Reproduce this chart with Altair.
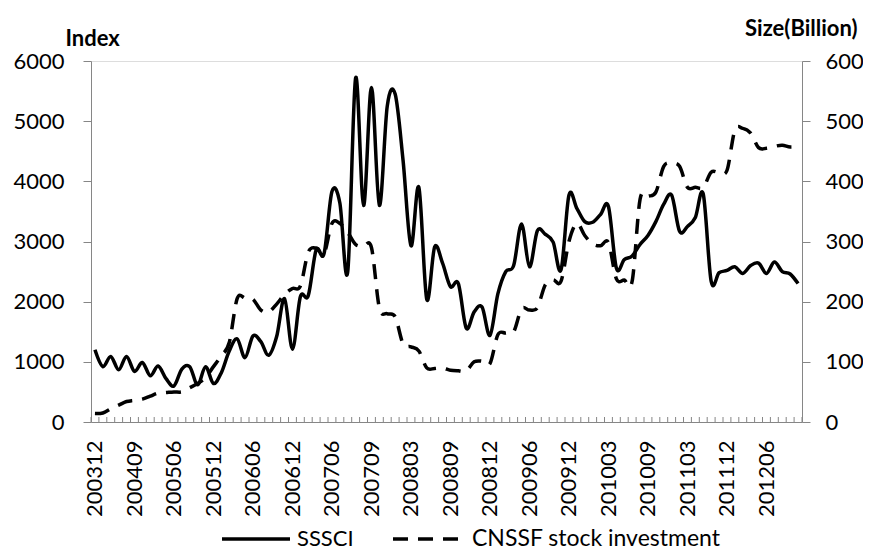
import altair as alt
import pandas as pd
import numpy as np

# ---------------- data ----------------
TICK_LABELS = ["200312", "200409", "200506", "200512", "200606", "200612",
               "200706", "200709", "200803", "200809", "200812", "200906",
               "200912", "201003", "201009", "201103", "201112", "201206"]

SSSCI = [1200, 920, 1090, 870, 1090, 840, 990, 770, 930, 720,
         600, 880, 920, 620, 920, 640, 820, 1180, 1380, 1070,
         1430, 1335, 1110, 1420, 2050, 1210, 2080, 2100, 2860, 2800,
         3830, 3640, 2500, 5720, 3600, 5560, 3600, 5250, 5450, 4350,
         2930, 3900, 2040, 2910, 2640, 2250, 2300, 1560, 1830, 1910,
         1440, 2130, 2500, 2600, 3290, 2580, 3180, 3120, 2990, 2530,
         3770, 3550, 3330, 3320, 3450, 3580, 2560, 2700, 2760, 2950,
         3100, 3330, 3620, 3770, 3170, 3250, 3400, 3790, 2340, 2480,
         2520, 2580, 2470, 2600, 2640, 2470, 2660, 2500, 2460, 2300]

CNSSF = [14, 15, 22, 28, 34, 36, 38, 43, 48, 49,
         50, 50, 57, 64, 74, 92, 110, 132, 205, 206,
         204, 186, 183, 196, 212, 222, 226, 282, 289, 280,
         330, 330, 315, 295, 292, 290, 190, 180, 175, 130,
         125, 118, 90, 89, 90, 86, 85, 85, 100, 101,
         97, 145, 148, 150, 188, 186, 190, 228, 236, 234,
         300, 330, 310, 296, 293, 298, 238, 236, 234, 370,
         375, 382, 425, 430, 425, 390, 390, 390, 415, 415,
         418, 485, 488, 480, 456, 455, 458, 460, 457, 458]

SERIES = ["SSSCI", "CNSSF stock investment"]
LEFT_TICKS = [0, 1000, 2000, 3000, 4000, 5000, 6000]
RIGHT_TICKS = [0, 100, 200, 300, 400, 500, 600]

n = len(SSSCI)
df = pd.DataFrame({
    "idx": list(range(n)) * 2,
    "value": SSSCI + CNSSF,
    "series": [SERIES[0]] * n + [SERIES[1]] * n,
})
bounds = pd.DataFrame({"idx": np.arange(n + 1) - 0.5})
leg_df = pd.DataFrame({"series": SERIES})

# ---------------- styling ----------------
FONT = "Lato"
FS = 22
AX = "#868686"
W, H = 711, 361
LW = 3.5
DASH = [15, 10]

x_scale = alt.Scale(domain=[-0.5, n - 0.5], nice=False, zero=False)
label_expr = "[" + ",".join("'%s'" % t for t in TICK_LABELS) + "][datum.value / 5]"
x_axis = alt.Axis(values=list(range(0, 5 * len(TICK_LABELS), 5)), labelExpr=label_expr,
                  ticks=False, labelAngle=270, labelPadding=18, labelFont=FONT,
                  labelFontSize=FS, labelColor="black", domainColor=AX, domainWidth=1,
                  title=None, grid=False, labelOverlap=False, labelFlush=False)

base = alt.Chart(df).encode(x=alt.X("idx:Q", scale=x_scale, axis=x_axis))

left = base.transform_filter(alt.datum.series == SERIES[0]).mark_line(
    color="black", strokeWidth=LW, interpolate="cardinal"
).encode(
    y=alt.Y("value:Q", scale=alt.Scale(domain=[0, 6000], nice=False),
            axis=alt.Axis(orient="left", values=LEFT_TICKS, format="d", tickSize=8, tickColor=AX,
                          domainColor=AX, labelPadding=19, labelFont=FONT, labelFontSize=FS,
                          labelColor="black", grid=False, title="Index", titleAngle=0,
                          titleAlign="left", titleBaseline="alphabetic", titleX=-26, titleY=-16,
                          titleFont=FONT, titleFontSize=FS, titleFontWeight="bold",
                          titleColor="black"))
)

right = base.transform_filter(alt.datum.series == SERIES[1]).mark_line(
    color="black", strokeWidth=LW, interpolate="cardinal", strokeDash=DASH
).encode(
    y=alt.Y("value:Q", scale=alt.Scale(domain=[0, 600], nice=False),
            axis=alt.Axis(orient="right", values=RIGHT_TICKS, format="d", tickSize=8, tickColor=AX,
                          domainColor=AX, labelPadding=15, labelFont=FONT, labelFontSize=FS,
                          labelColor="black", grid=False, title="Size(Billion)", titleAngle=0,
                          titleAlign="right", titleBaseline="alphabetic", titleX=55, titleY=-26,
                          titleFont=FONT, titleFontSize=FS, titleFontWeight="bold",
                          titleColor="black"))
)

ticks = alt.Chart(bounds).mark_rule(color=AX, strokeWidth=1).encode(
    x=alt.X("idx:Q", scale=x_scale, axis=x_axis),
    y=alt.value(H - 5), y2=alt.value(H),
)

# ---------------- legend (bottom, centred) ----------------
LEG_Y = 478
leg1_line = alt.Chart(leg_df).transform_filter(alt.datum.series == SERIES[0]).mark_rule(
    color="black", strokeWidth=LW
).encode(x=alt.value(131), x2=alt.value(199), y=alt.value(LEG_Y))
leg1_text = alt.Chart(leg_df).transform_filter(alt.datum.series == SERIES[0]).mark_text(
    align="left", baseline="middle", font=FONT, fontSize=FS, color="black"
).encode(x=alt.value(206), y=alt.value(LEG_Y), text="series:N")
leg2_line = alt.Chart(leg_df).transform_filter(alt.datum.series == SERIES[1]).mark_rule(
    color="black", strokeWidth=LW, strokeDash=DASH
).encode(x=alt.value(302), x2=alt.value(376), y=alt.value(LEG_Y))
leg2_text = alt.Chart(leg_df).transform_filter(alt.datum.series == SERIES[1]).mark_text(
    align="left", baseline="middle", font=FONT, fontSize=FS + 1, color="black"
).encode(x=alt.value(381), y=alt.value(LEG_Y), text="series:N")

chart = alt.layer(left, right, ticks, leg1_line, leg1_text, leg2_line, leg2_text).resolve_scale(
    y="independent"
).properties(
    width=W, height=H,
    autosize=alt.AutoSizeParams(type="none"),
    padding={"left": 83, "top": 53, "right": 61, "bottom": 128},
).configure_view(strokeWidth=0).configure(background="white")

chart.save("out.html", embed_options={"renderer": "svg", "actions": False})
